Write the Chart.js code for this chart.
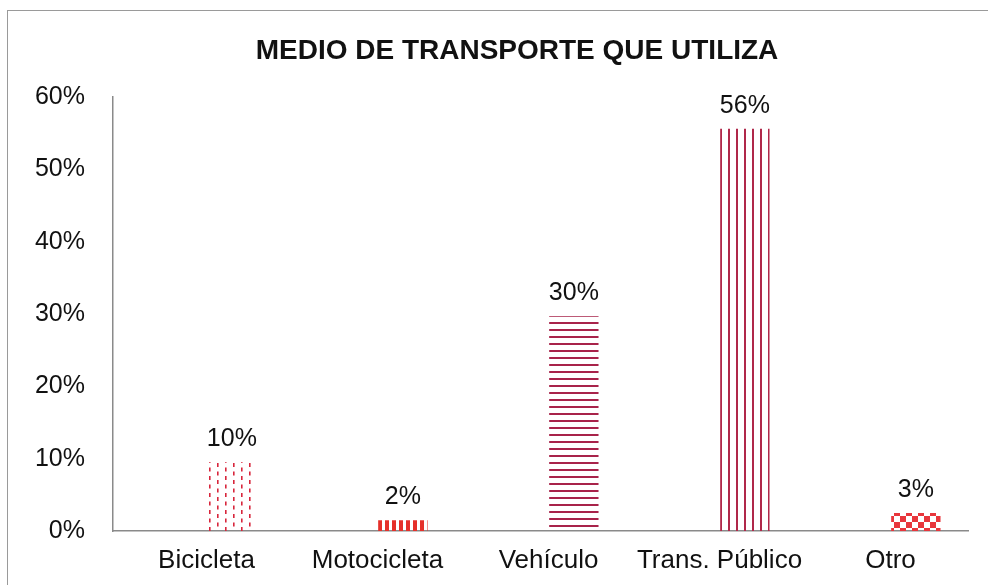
<!DOCTYPE html>
<html>
<head>
<meta charset="utf-8">
<script src="https://cdn.jsdelivr.net/npm/chart.js@4.4.1/dist/chart.umd.min.js"></script>
<style>
  html, body { margin: 0; padding: 0; background: #fff; }
  #wrap { width: 988px; height: 585px; position: relative; }
</style>
</head>
<body>
<div id="wrap"><canvas id="chart" width="988" height="585"></canvas></div>
<script>
// ===== data =====
const categories = ["Bicicleta", "Motocicleta", "Vehículo", "Trans. Público", "Otro"];
const shares = [9.5, 1.5, 29.7, 55.6, 2.5]; // percent
const yMax = 60;
const yStep = 10;
const chartTitle = "MEDIO DE TRANSPORTE QUE UTILIZA";

const FONT = "'Liberation Sans', Arial, sans-serif";

// ===== fill patterns for each bar =====
function makePattern(w, h, draw) {
	const c = document.createElement("canvas");
	c.width = w;
	c.height = h;
	const g = c.getContext("2d");
	draw(g);
	return g.createPattern(c, "repeat");
}

const patterns = [
	// dashed vertical lines, staggered
	makePattern(16, 17, (g) => {
		g.fillStyle = "#d8263c";
		g.fillRect(1, 0, 1.6, 4);
		g.fillRect(1, 8.5, 1.6, 4);
		g.fillRect(9, 4, 1.6, 4);
		g.fillRect(9, 12.5, 1.6, 4);
	}),
	// dense vertical blocks
	makePattern(7, 7, (g) => {
		g.fillStyle = "#e5302a";
		g.fillRect(0, 0, 4, 7);
	}),
	// horizontal lines
	makePattern(8, 7, (g) => {
		g.fillStyle = "#a8234a";
		g.fillRect(0, 0, 8, 2);
	}),
	// vertical lines
	makePattern(8, 8, (g) => {
		g.fillStyle = "#b0284a";
		g.fillRect(0, 0, 2, 8);
	}),
	// checkerboard
	makePattern(12, 12, (g) => {
		g.fillStyle = "#e8363c";
		g.fillRect(0, 0, 6, 6);
		g.fillRect(6, 6, 6, 6);
	}),
];

// ===== plugins: frame, title, value labels =====
const decorations = {
	id: "decorations",
	beforeDraw(chart) {
		const ctx = chart.ctx;
		ctx.save();
		ctx.fillStyle = "#fff";
		ctx.fillRect(0, 0, chart.width, chart.height);
		ctx.strokeStyle = "#9a9a9a";
		ctx.lineWidth = 1;
		ctx.strokeRect(7.5, 10.5, 1000, 600);
		ctx.restore();
	},
	afterDraw(chart) {
		const ctx = chart.ctx;
		ctx.save();
		ctx.fillStyle = "#111";
		ctx.font = "bold 28px " + FONT;
		ctx.textAlign = "center";
		ctx.textBaseline = "alphabetic";
		ctx.fillText(chartTitle, 517, 59);

		// value labels above the bars
		const meta = chart.getDatasetMeta(1);
		ctx.font = "25px " + FONT;
		meta.data.forEach((bar, i) => {
			ctx.fillText(Math.round(shares[i]) + "%", bar.x, bar.y - 16);
		});
		ctx.restore();
	},
};

new Chart(document.getElementById("chart"), {
	type: "bar",
	data: {
		labels: categories,
		datasets: [
			{
				// empty slot, only pushes the real bars right like in the original
				label: "",
				data: categories.map(() => null),
				backgroundColor: "rgba(0,0,0,0)",
			},
			{
				label: "Medio de transporte",
				data: shares,
				backgroundColor: patterns,
				borderWidth: 0,
			},
		],
	},
	options: {
		responsive: false,
		animation: false,
		events: [],
		categoryPercentage: 0.78,
		barPercentage: 0.74,
		layout: { padding: { top: 97, right: 20, bottom: 0, left: 0 } },
		plugins: {
			legend: { display: false },
			title: { display: false },
			tooltip: { enabled: false },
		},
		scales: {
			x: {
				grid: { display: false, drawTicks: false },
				border: { display: true, color: "#8a8a8a", width: 1.5 },
				ticks: {
					color: "#111",
					font: { family: FONT, size: 26 },
					padding: 14,
					labelOffset: 8,
					maxRotation: 0,
					autoSkip: false,
				},
				afterFit(scale) {
					scale.height = 54;
				},
			},
			y: {
				min: 0,
				max: yMax,
				grid: { display: false, drawTicks: false },
				border: { display: true, color: "#8a8a8a", width: 1.5 },
				ticks: {
					stepSize: yStep,
					color: "#111",
					font: { family: FONT, size: 25 },
					padding: 28,
					callback: (v) => v + "%",
				},
				afterFit(scale) {
					scale.width = 113;
				},
			},
		},
	},
	plugins: [decorations],
});
</script>
</body>
</html>
